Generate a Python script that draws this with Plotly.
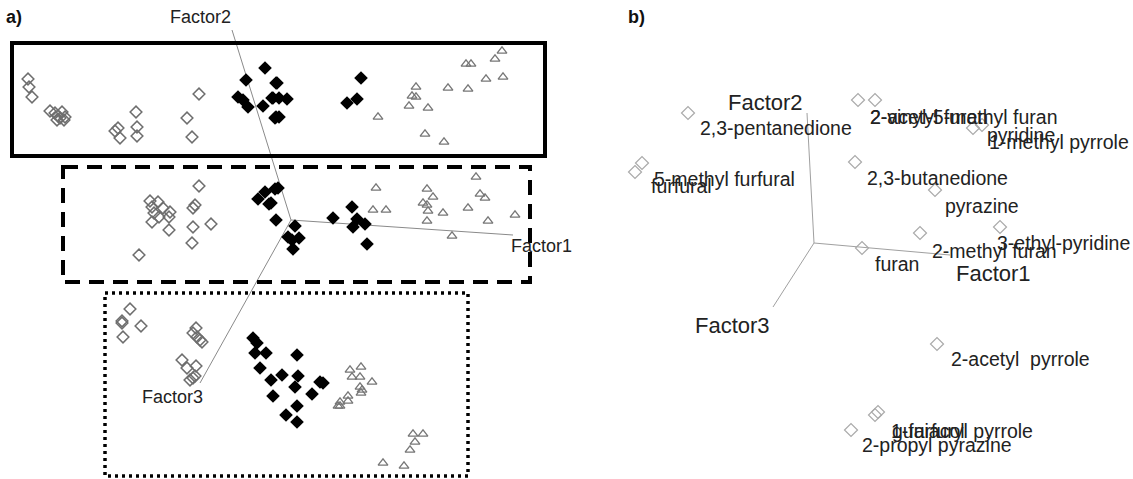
import plotly.graph_objects as go

# ---------------- Panel a) : sample scores (pixel-like plot units) ----------------
open_dia_x = [28, 29, 32, 50, 55, 58, 60, 62, 65, 57, 64, 136, 115, 118, 120, 137, 137, 199, 187, 192,
              199, 150, 158, 163, 152, 154, 159, 152, 170, 169, 169, 195, 193, 193, 192, 211, 139,
              130, 122, 122, 141, 123, 196, 193, 197, 202, 200, 182, 187, 196, 190, 193, 195]
open_dia_y = [79, 87, 97, 111, 113, 116, 118, 112, 117, 120, 120, 112, 131, 128, 138, 127, 136, 94, 118, 137,
              186, 201, 202, 208, 207, 213, 217, 222, 212, 217, 230, 205, 208, 227, 243, 224, 255,
              309, 321, 323, 326, 337, 328, 333, 337, 342, 340, 360, 368, 366, 380, 378, 376]

fill_dia_x = [265, 246, 238, 243, 248, 263, 276, 273, 276, 277, 272, 279, 287, 275, 279, 361, 347, 357,
              265, 275, 258, 269, 276, 278, 271, 295, 288, 292, 299, 293, 333, 352, 357, 353, 365, 367,
              253, 257, 255, 266, 260, 271, 282, 297, 298, 295, 273, 312, 297, 286, 297, 323, 320]
fill_dia_y = [68, 80, 97, 100, 107, 106, 83, 98, 117, 83, 98, 98, 99, 118, 117, 78, 103, 99,
              192, 189, 199, 204, 220, 188, 203, 226, 237, 240, 238, 249, 218, 207, 219, 227, 224, 244,
              338, 343, 353, 353, 368, 380, 375, 355, 376, 387, 396, 394, 406, 415, 422, 383, 382]

tri_x = [502, 495, 466, 471, 486, 503, 468, 448, 416, 412, 416, 409, 428, 378, 425, 444,
         376, 373, 386, 427, 433, 423, 427, 428, 443, 427, 476, 480, 485, 468, 488, 515, 452,
         350, 361, 352, 360, 372, 360, 362, 361, 348, 340, 348, 338, 340, 413, 423, 415, 410, 383, 404]
tri_y = [51, 59, 64, 64, 79, 77, 89, 88, 87, 96, 97, 106, 108, 117, 134, 142,
         188, 210, 210, 189, 197, 203, 205, 211, 213, 221, 177, 194, 198, 208, 221, 215, 236,
         370, 367, 377, 377, 382, 387, 390, 393, 396, 402, 401, 406, 406, 434, 434, 442, 450, 463, 466]

# factor axes of panel a): origin then end points
a_origin = (291, 220)
a_factor_names = ["Factor1", "Factor2", "Factor3"]
a_factor_end_x = [513, 232, 200]
a_factor_end_y = [235, 30, 383]
a_factor_lab_x = [541, 200, 172]
a_factor_lab_y = [246, 17, 397]

# ---------------- Panel b) : compound loadings ----------------
comp_names = ["2,3-pentanedione", "5-methyl furfural", "furfural", "2-acetyl furan",
              "2-vinyl-5-methyl furan", "pyridine", "1-methyl pyrrole", "2,3-butanedione",
              "pyrazine", "2-methyl furan", "3-ethyl-pyridine", "furan", "2-acetyl  pyrrole",
              "guaiacol", "1-furfuryl pyrrole", "2-propyl pyrazine"]
comp_x = [688, 642, 635, 875, 858, 973, 982, 855, 935, 920, 1000, 862, 937, 875, 878, 851]
comp_y = [113, 163, 172, 100, 100, 128, 125, 162, 190, 233, 227, 248, 344, 415, 412, 430]
comp_lab_x = [698, 652, 649, 868, 868, 985, 987, 865, 943, 930, 995, 873, 949, 890, 889, 860]
comp_lab_y = [128, 179, 186, 117, 117, 135, 142, 178, 206, 251, 243, 264, 359, 431, 431, 445]

b_origin = (814, 243)
b_factor_end_x = [950, 807, 773]
b_factor_end_y = [255, 113, 307]
b_factor_lab_x = [993, 765, 732]
b_factor_lab_y = [273, 102, 325]

W, H = 1133, 479
FONT = "Liberation Sans, Arial, sans-serif"

fig = go.Figure()

# axes lines
for ex, ey in zip(a_factor_end_x, a_factor_end_y):
    fig.add_trace(go.Scatter(x=[a_origin[0], ex], y=[a_origin[1], ey], mode="lines",
                             line=dict(color="#8a8a8a", width=1), hoverinfo="skip"))
for ex, ey in zip(b_factor_end_x, b_factor_end_y):
    fig.add_trace(go.Scatter(x=[b_origin[0], ex], y=[b_origin[1], ey], mode="lines",
                             line=dict(color="#a0a0a0", width=1), hoverinfo="skip"))

fig.add_trace(go.Scatter(x=open_dia_x, y=open_dia_y, mode="markers",
                         marker=dict(symbol="diamond-open", size=9, color="#6e6e6e",
                                     line=dict(width=1.5, color="#6e6e6e"))))
fig.add_trace(go.Scatter(x=fill_dia_x, y=fill_dia_y, mode="markers",
                         marker=dict(symbol="diamond", size=10.5, color="#000000")))
fig.add_trace(go.Scatter(x=tri_x, y=tri_y, mode="markers",
                         marker=dict(symbol="triangle-up-open", size=8.5, color="#777777",
                                     line=dict(width=1.3, color="#777777"))))
fig.add_trace(go.Scatter(x=comp_x, y=comp_y, mode="markers",
                         marker=dict(symbol="diamond-open", size=10, color="#aaaaaa",
                                     line=dict(width=1.2, color="#aaaaaa"))))

# boxes
fig.add_shape(type="rect", xref="x", yref="y", x0=12, x1=545, y0=43, y1=156,
              line=dict(color="black", width=4))
fig.add_shape(type="rect", xref="x", yref="y", x0=63, x1=530, y0=167, y1=282,
              line=dict(color="black", width=4, dash="15px,9px"))
fig.add_shape(type="rect", xref="x", yref="y", x0=105, x1=468, y0=293, y1=476,
              line=dict(color="black", width=3.5, dash="3px,4px"))

ann = []
ann.append(dict(x=4, y=17, text="<b>a)</b>", xanchor="left", font=dict(size=18, color="#111")))
ann.append(dict(x=626, y=17, text="<b>b)</b>", xanchor="left", font=dict(size=18, color="#111")))
for n, lx, ly in zip(a_factor_names, a_factor_lab_x, a_factor_lab_y):
    ann.append(dict(x=lx, y=ly, text=n, xanchor="center", font=dict(size=18, color="#222")))
for n, lx, ly in zip(a_factor_names, b_factor_lab_x, b_factor_lab_y):
    ann.append(dict(x=lx, y=ly, text=n, xanchor="center", font=dict(size=22, color="#222")))
for n, lx, ly in zip(comp_names, comp_lab_x, comp_lab_y):
    ann.append(dict(x=lx, y=ly, text=n, xanchor="left", font=dict(size=19.5, color="#222")))
for a in ann:
    a.update(xref="x", yref="y", showarrow=False, yanchor="middle")
    a["font"]["family"] = FONT

fig.update_layout(
    annotations=ann,
    width=W, height=H,
    margin=dict(l=0, r=0, t=0, b=0),
    paper_bgcolor="white", plot_bgcolor="white",
    showlegend=False,
    xaxis=dict(range=[0, W], visible=False, fixedrange=True),
    yaxis=dict(range=[H, 0], visible=False, fixedrange=True),
)

fig.write_html("out.html", config={"displayModeBar": False},
               post_script="document.body.style.margin='0px';document.body.style.padding='0px';")
